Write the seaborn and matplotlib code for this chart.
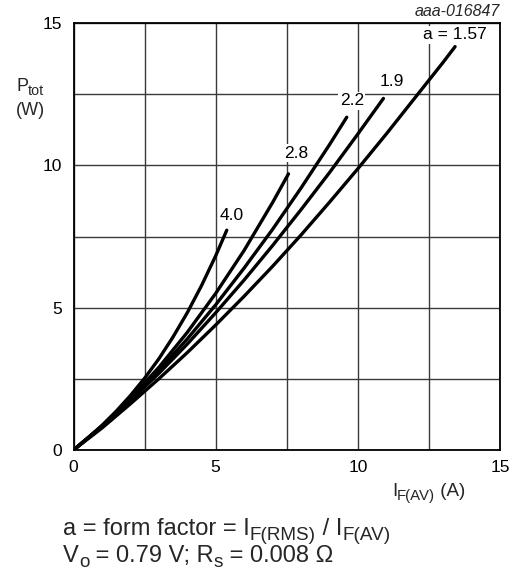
import matplotlib
matplotlib.use("Agg")
import matplotlib.pyplot as plt
import seaborn as sns
import pandas as pd

# ---- data ----
x_a157 = [0, 1, 2, 3, 4, 5, 6, 7, 8, 9, 10, 11, 12, 13, 13.42]
p_a157 = [0, 0.77, 1.62, 2.50, 3.42, 4.39, 5.40, 6.45, 7.55, 8.70, 9.88, 11.10, 12.36, 13.62, 14.17]

x_a19 = [0, 1, 2, 3, 4, 5, 6, 7, 8, 9, 10, 10.9]
p_a19 = [0, 0.83, 1.73, 2.69, 3.72, 4.82, 5.97, 7.18, 8.44, 9.74, 11.10, 12.35]

x_a22 = [0, 1, 2, 3, 4, 5, 6, 7, 8, 9, 9.61]
p_a22 = [0, 0.84, 1.77, 2.79, 3.90, 5.10, 6.39, 7.75, 9.20, 10.72, 11.69]

x_a28 = [0, 1, 2, 3, 4, 5, 6, 7, 7.56]
p_a28 = [0, 0.85, 1.81, 2.90, 4.13, 5.50, 7.01, 8.69, 9.70]

x_a40 = [0, 0.5, 1, 1.5, 2, 2.5, 3, 3.5, 4, 4.5, 5, 5.39]
p_a40 = [0, 0.41, 0.86, 1.36, 1.91, 2.52, 3.20, 3.97, 4.82, 5.77, 6.82, 7.72]

curve_names = ["1.57", "1.9", "2.2", "2.8", "4.0"]
curve_labels = ["a = 1.57", "1.9", "2.2", "2.8", "4.0"]
label_x = [13.4, 11.19, 9.79, 7.83, 5.56]
label_y = [14.58, 12.94, 12.26, 10.42, 8.25]

x_ticks = [0, 5, 10, 15]
y_ticks = [0, 5, 10, 15]
grid_steps = [0, 2.5, 5, 7.5, 10, 12.5, 15]

frames = []
for name, xs, ps in zip(curve_names,
                        [x_a157, x_a19, x_a22, x_a28, x_a40],
                        [p_a157, p_a19, p_a22, p_a28, p_a40]):
    frames.append(pd.DataFrame({"I": xs, "P": ps, "a": name}))
df = pd.concat(frames, ignore_index=True)

# ---- style ----
sns.set_theme(style="white")
plt.rcParams["font.family"] = ["Liberation Sans", "DejaVu Sans"]

W, H = 518, 570
fig = plt.figure(figsize=(W / 100, H / 100), dpi=100)
ax = fig.add_axes([73.5 / W, 1 - 450 / H, (500 - 73.5) / W, (450 - 23) / H])

for g in grid_steps:
    ax.axvline(g, color="#3a3a3a", lw=1.0, zorder=1)
    ax.axhline(g, color="#3a3a3a", lw=1.0, zorder=1)

sns.lineplot(data=df, x="I", y="P", hue="a", units="a", estimator=None, sort=False,
             palette={n: "black" for n in curve_names}, legend=False,
             linewidth=2.4, ax=ax, zorder=3)

for lab, lx, ly in zip(curve_labels, label_x, label_y):
    ax.text(lx, ly, lab, ha="center", va="center", fontsize=12.5, color="black",
            zorder=4, bbox=dict(facecolor="white", edgecolor="none", pad=1.0))

ax.set_xlim(0, 15)
ax.set_ylim(0, 15)
ax.set_xticks(x_ticks)
ax.set_yticks(y_ticks)
ax.set_xticklabels([str(t) for t in x_ticks])
ax.set_yticklabels([str(t) for t in y_ticks])
ax.tick_params(axis="both", length=0, labelsize=12.5, colors="black")
ax.tick_params(axis="x", pad=7)
ax.tick_params(axis="y", pad=8)
ax.set_xlabel("")
ax.set_ylabel("")
for s in ax.spines.values():
    s.set_visible(True)
    s.set_color("black")
    s.set_linewidth(1.3)
    s.set_zorder(5)

fig.canvas.draw()
renderer = fig.canvas.get_renderer()


def _width(s, fs):
    t1 = fig.text(0, 0, "|" + s + "|", fontsize=fs)
    t2 = fig.text(0, 0, "||", fontsize=fs)
    w = t1.get_window_extent(renderer).width - t2.get_window_extent(renderer).width
    t1.remove()
    t2.remove()
    return w


def rich(x_px, y_px_top, parts, size, sub_scale=0.8, sub_drop=0.22, **kw):
    """Draw text with subscripts. x_px from left, y_px_top baseline from top."""
    cur = x_px
    base = H - y_px_top
    for s, kind in parts:
        fs = size if kind == "n" else size * sub_scale
        yy = base if kind == "n" else base - sub_drop * size * 100 / 72
        fig.text(cur / W, yy / H, s, fontsize=fs, ha="left", va="baseline", **kw)
        cur += _width(s, fs)


# axis titles
rich(16, 91, [("P", "n"), ("tot", "s")], 13)
rich(16, 115, [("(W)", "n")], 13)
rich(392, 496, [("I", "n"), ("F(AV)", "s"), (" (A)", "n")], 13.5)

# reference code
fig.text(500 / W, 1 - 16 / H, "aaa-016847", fontsize=11.5, style="italic", ha="right", va="baseline")

# footnotes
rich(63, 535, [("a = form factor = I", "n"), ("F(RMS)", "s"), (" / I", "n"), ("F(AV)", "s")], 17)
rich(63, 562, [("V", "n"), ("o", "s"), (" = 0.79 V; R", "n"), ("s", "s"), (" = 0.008 Ω", "n")], 17)

fig.savefig("out.png", dpi=100)
